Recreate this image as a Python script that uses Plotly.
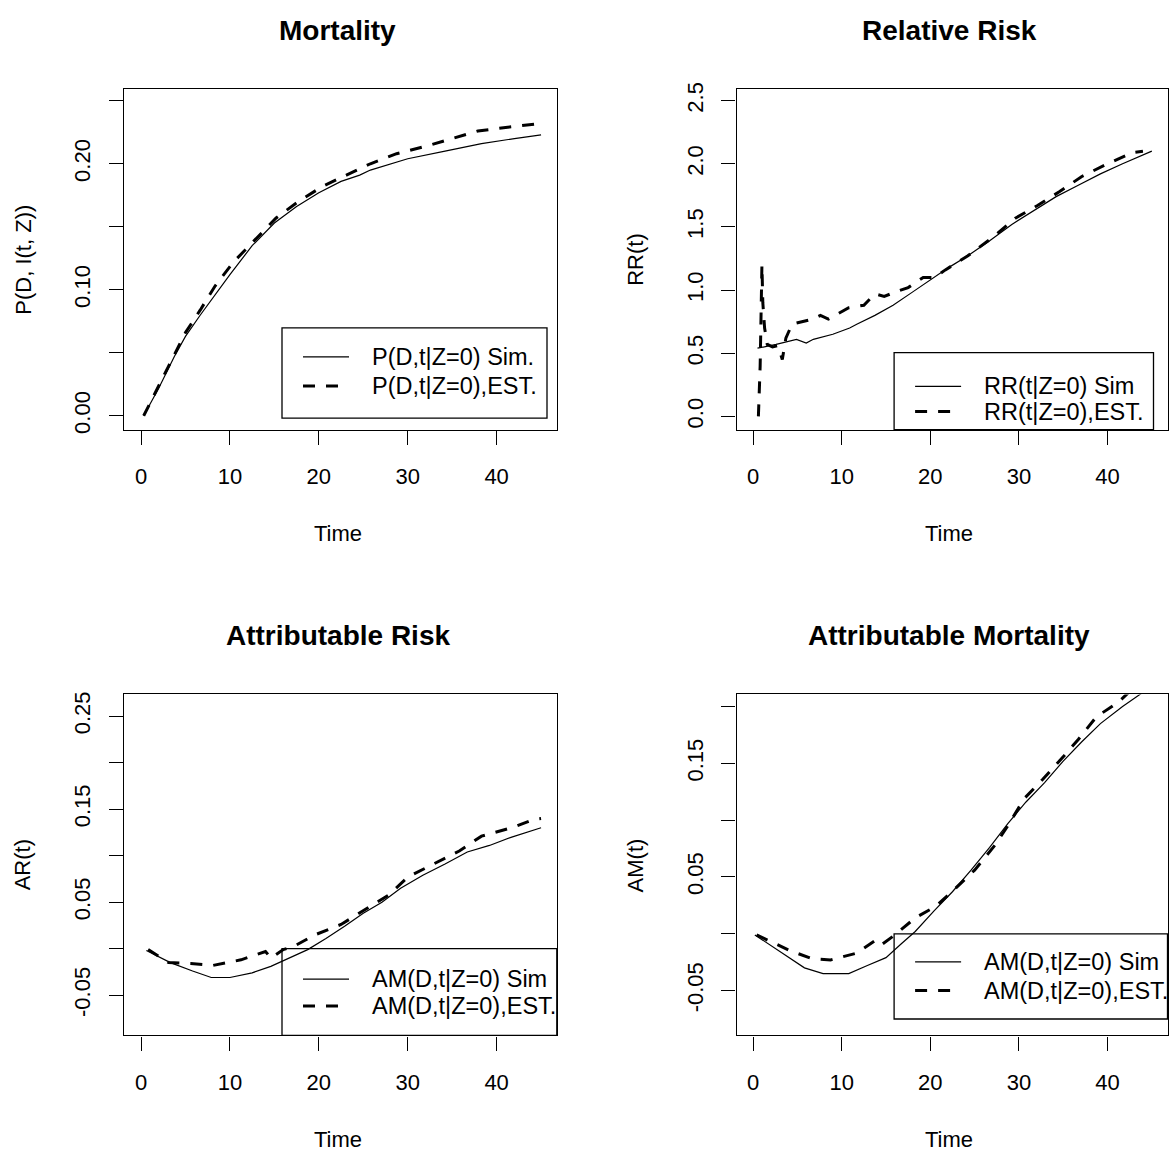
import plotly.graph_objects as go

W, H = 1169, 1158
FONT = "Liberation Sans, Arial, sans-serif"

# ---------------- data ----------------
# Mortality
mort_sim_t = [0.3, 2, 3.75, 5, 6.67, 8.33, 10, 12.5, 15, 17.5, 20, 22.5, 24.6, 25.8, 28, 30, 34.2, 38.3, 42, 45]
mort_sim_v = [0.000, 0.022, 0.047, 0.063, 0.080, 0.096, 0.112, 0.135, 0.153, 0.166, 0.177, 0.186, 0.191,
              0.195, 0.200, 0.204, 0.210, 0.216, 0.220, 0.223]
mort_est_t = [0.3, 2, 3.75, 5, 6.67, 8.33, 10.4, 12.9, 15.2, 17.7, 20.4, 23.1, 25.8, 28.75, 32.1, 35, 37.9,
              41.25, 44.6, 45]
mort_est_v = [0.000, 0.024, 0.048, 0.066, 0.084, 0.103, 0.122, 0.140, 0.157, 0.170, 0.182, 0.191, 0.200,
              0.208, 0.214, 0.220, 0.226, 0.229, 0.232, 0.232]

# Relative risk
rr_sim_t = [0.5, 2.6, 4.9, 6.0, 6.8, 9.0, 10.9, 11.7, 13.75, 15.8, 17.9, 20, 22.1, 24.2, 26.7, 29.2, 31.7,
            34.2, 36.7, 39.2, 41.7, 45]
rr_sim_v = [0.54, 0.57, 0.61, 0.58, 0.61, 0.65, 0.70, 0.73, 0.80, 0.88, 0.98, 1.08, 1.18, 1.27, 1.39, 1.52,
            1.63, 1.74, 1.83, 1.92, 2.00, 2.10]
rr_est_t = [0.6, 0.8, 1.0, 1.1, 1.3, 1.6, 2.2, 2.8, 3.3, 3.7, 4.4, 5.6, 6.7, 7.6, 8.5, 10.8, 12.5, 13.75,
            14.8, 16.25, 17.5, 19.2, 20.5, 21.7, 24.2, 27.1, 29.6, 32.1, 34.6, 37.1, 40, 42.9, 44]
rr_est_v = [0.00, 0.40, 1.20, 0.90, 0.70, 0.57, 0.55, 0.56, 0.45, 0.62, 0.73, 0.75, 0.77, 0.80, 0.77, 0.86,
            0.88, 0.97, 0.95, 0.99, 1.02, 1.10, 1.10, 1.16, 1.27, 1.42, 1.57, 1.67, 1.78, 1.90, 2.00, 2.09, 2.10]

# Attributable risk
ar_sim_t = [0.6, 3.3, 5.8, 7.9, 10, 12.5, 14.6, 16.7, 18.75, 20.8, 22.9, 25, 27.1, 29.2, 31.7, 34.2, 36.7,
            39.2, 41.7, 45]
ar_sim_v = [-0.002, -0.015, -0.024, -0.031, -0.031, -0.026, -0.019, -0.010, -0.001, 0.011, 0.024, 0.038,
            0.050, 0.065, 0.079, 0.091, 0.104, 0.111, 0.120, 0.130]
ar_est_t = [0.8, 3.1, 5.6, 8.1, 11.25, 13.2, 14.0, 14.6, 16.0, 17.1, 19.6, 22.5, 25.2, 27.9, 30, 32.9, 35.8,
            38.3, 41.7, 44.2, 45]
ar_est_v = [-0.001, -0.015, -0.016, -0.018, -0.012, -0.006, -0.003, -0.010, -0.001, 0.002, 0.015, 0.026,
            0.042, 0.058, 0.077, 0.091, 0.105, 0.121, 0.130, 0.139, 0.140]

# Attributable mortality
am_sim_t = [0.2, 3.3, 5.8, 7.9, 10.8, 12.9, 15, 16.7, 18.3, 20.4, 22.5, 24.6, 26.7, 28.75, 30.8, 32.9, 35,
            37.1, 39.2, 41.7, 45]
am_sim_v = [-0.001, -0.017, -0.030, -0.035, -0.035, -0.028, -0.021, -0.009, 0.002, 0.020, 0.037, 0.056,
            0.076, 0.097, 0.116, 0.133, 0.152, 0.169, 0.185, 0.200, 0.218]
am_est_t = [0.4, 2.5, 4.2, 6.7, 8.75, 11.7, 13.96, 14.6, 16.0, 18.3, 20.6, 22.7, 25, 27.3, 28.75, 30.6, 32.7,
            34.8, 36.7, 38.75, 41.25, 43, 45]
am_est_v = [-0.001, -0.009, -0.015, -0.022, -0.023, -0.017, -0.005, -0.009, -0.001, 0.014, 0.024, 0.039,
            0.056, 0.078, 0.095, 0.119, 0.136, 0.154, 0.171, 0.191, 0.204, 0.217, 0.228]

# ticks / labels
x_ticks = [0, 10, 20, 30, 40]
x_ticktext = ["0", "10", "20", "30", "40"]
mort_yticks = [0.00, 0.05, 0.10, 0.15, 0.20, 0.25]
mort_yticktext = ["0.00", "", "0.10", "", "0.20", ""]
rr_yticks = [0.0, 0.5, 1.0, 1.5, 2.0, 2.5]
rr_yticktext = ["0.0", "0.5", "1.0", "1.5", "2.0", "2.5"]
ar_yticks = [-0.05, 0.00, 0.05, 0.10, 0.15, 0.20, 0.25]
ar_yticktext = ["-0.05", "", "0.05", "", "0.15", "", "0.25"]
am_yticks = [-0.05, 0.00, 0.05, 0.10, 0.15, 0.20]
am_yticktext = ["-0.05", "", "0.05", "", "0.15", ""]

titles = ["Mortality", "Relative Risk", "Attributable Risk", "Attributable Mortality"]
ytitles = ["P(D, I(t, Z))", "RR(t)", "AR(t)", "AM(t)"]
xtitle = "Time"
legend_labels = [
    ["P(D,t|Z=0) Sim.", "P(D,t|Z=0),EST."],
    ["RR(t|Z=0) Sim", "RR(t|Z=0),EST."],
    ["AM(D,t|Z=0) Sim", "AM(D,t|Z=0),EST."],
    ["AM(D,t|Z=0) Sim", "AM(D,t|Z=0),EST."],
]

# ---------------- layout geometry (pixels) ----------------
def px(x):
    return x / W

def py(y):
    return 1 - y / H

LEFT = (124.4, 556.8)
RIGHT = (736.5, 1167.5)
TOP = (82.7, 426.7)
BOT = (694.0, 1038.3)
XRANGE = [-1.87, 46.77]
panels = [
    dict(xd=LEFT, yd=TOP, yr=[-0.011, 0.2594], yt=mort_yticks, ytt=mort_yticktext,
         data=[(mort_sim_t, mort_sim_v), (mort_est_t, mort_est_v)],
         leg=dict(box=(282, 324, 547, 415), rows=(353.3, 382.7))),
    dict(xd=RIGHT, yd=TOP, yr=[-0.105, 2.593], yt=rr_yticks, ytt=rr_yticktext,
         data=[(rr_sim_t, rr_sim_v), (rr_est_t, rr_est_v)],
         leg=dict(box=(894.1, 349, 1153.5, 426.7), rows=(383, 408.5))),
    dict(xd=LEFT, yd=BOT, yr=[-0.0933, 0.2734], yt=ar_yticks, ytt=ar_yticktext,
         data=[(ar_sim_t, ar_sim_v), (ar_est_t, ar_est_v)],
         leg=dict(box=(282, 950.7, 556.8, 1038.3), rows=(981.5, 1008.5))),
    dict(xd=RIGHT, yd=BOT, yr=[-0.0895, 0.2107], yt=am_yticks, ytt=am_yticktext,
         data=[(am_sim_t, am_sim_v), (am_est_t, am_est_v)],
         leg=dict(box=(894.1, 935.7, 1167.5, 1021.7), rows=(964, 993))),
]

fig = go.Figure()
shapes = []
annotations = []
TICKFONT = dict(family=FONT, size=22, color="black")

for i, p in enumerate(panels):
    n = "" if i == 0 else str(i + 1)
    xa, ya = "x" + n, "y" + n
    (ts, vs), (te, ve) = p["data"]
    fig.add_trace(go.Scatter(x=ts, y=vs, mode="lines", xaxis=xa, yaxis=ya, showlegend=False,
                             line=dict(color="black", width=1.2)))
    fig.add_trace(go.Scatter(x=te, y=ve, mode="lines", xaxis=xa, yaxis=ya, showlegend=False,
                             line=dict(color="black", width=3, dash="12px,11px")))
    common = dict(showline=True, mirror=True, linecolor="black", linewidth=1.3, ticks="outside",
                  ticklen=14, tickwidth=1.3, tickcolor="black", showgrid=False, zeroline=False,
                  tickfont=TICKFONT, fixedrange=True)
    fig.layout["xaxis" + n] = dict(domain=[px(p["xd"][0]), px(p["xd"][1])], range=XRANGE,
                                   tickvals=x_ticks, ticktext=x_ticktext, anchor=ya,
                                   ticklabelstandoff=13, **common)
    fig.layout["yaxis" + n] = dict(domain=[py(p["yd"][1]), py(p["yd"][0])], range=p["yr"],
                                   tickvals=p["yt"], ticktext=p["ytt"], anchor=xa, tickangle=-90,
                                   ticklabelstandoff=10, **common)

    cx = (p["xd"][0] + p["xd"][1]) / 2
    # title
    annotations.append(dict(text="<b>" + titles[i] + "</b>", x=px(cx - 3), y=py(p["yd"][0] - 59),
                            xref="paper", yref="paper", showarrow=False, xanchor="center",
                            yanchor="middle", font=dict(family=FONT, size=28, color="black")))
    # x title
    annotations.append(dict(text=xtitle, x=px(cx - 3), y=py(p["yd"][1] + 105), xref="paper", yref="paper",
                            showarrow=False, xanchor="center", yanchor="middle",
                            font=dict(family=FONT, size=22, color="black")))
    # y title
    cy = (p["yd"][0] + p["yd"][1]) / 2
    annotations.append(dict(text=ytitles[i], x=px(p["xd"][0] - 101), y=py(cy), xref="paper", yref="paper",
                            showarrow=False, xanchor="center", yanchor="middle", textangle=-90,
                            font=dict(family=FONT, size=22, color="black")))
    # legend
    L = p["leg"]
    x0, y0, x1, y1 = L["box"]
    shapes.append(dict(type="rect", xref="paper", yref="paper", x0=px(x0), x1=px(x1), y0=py(y1), y1=py(y0),
                       line=dict(color="black", width=1.3), fillcolor="rgba(0,0,0,0)", layer="above"))
    sx0, sx1, tx = x0 + 21, x0 + 67, x0 + 88
    for k, ry in enumerate(L["rows"]):
        shapes.append(dict(type="line", xref="paper", yref="paper", x0=px(sx0), x1=px(sx1),
                           y0=py(ry), y1=py(ry),
                           line=dict(color="black", width=1.2 if k == 0 else 3,
                                     dash="solid" if k == 0 else "12px,11px"), layer="above"))
        annotations.append(dict(text=legend_labels[i][k], x=px(tx), y=py(ry), xref="paper", yref="paper",
                                showarrow=False, xanchor="left", yanchor="middle",
                                font=dict(family=FONT, size=23.5, color="black")))

fig.update_layout(width=W, height=H, margin=dict(l=0, r=0, t=0, b=0), paper_bgcolor="white",
                  plot_bgcolor="white", shapes=shapes, annotations=annotations, showlegend=False)
fig.write_html("out.html", config={"displayModeBar": False},
               post_script="document.body.style.margin='0';document.body.style.overflow='hidden';")
